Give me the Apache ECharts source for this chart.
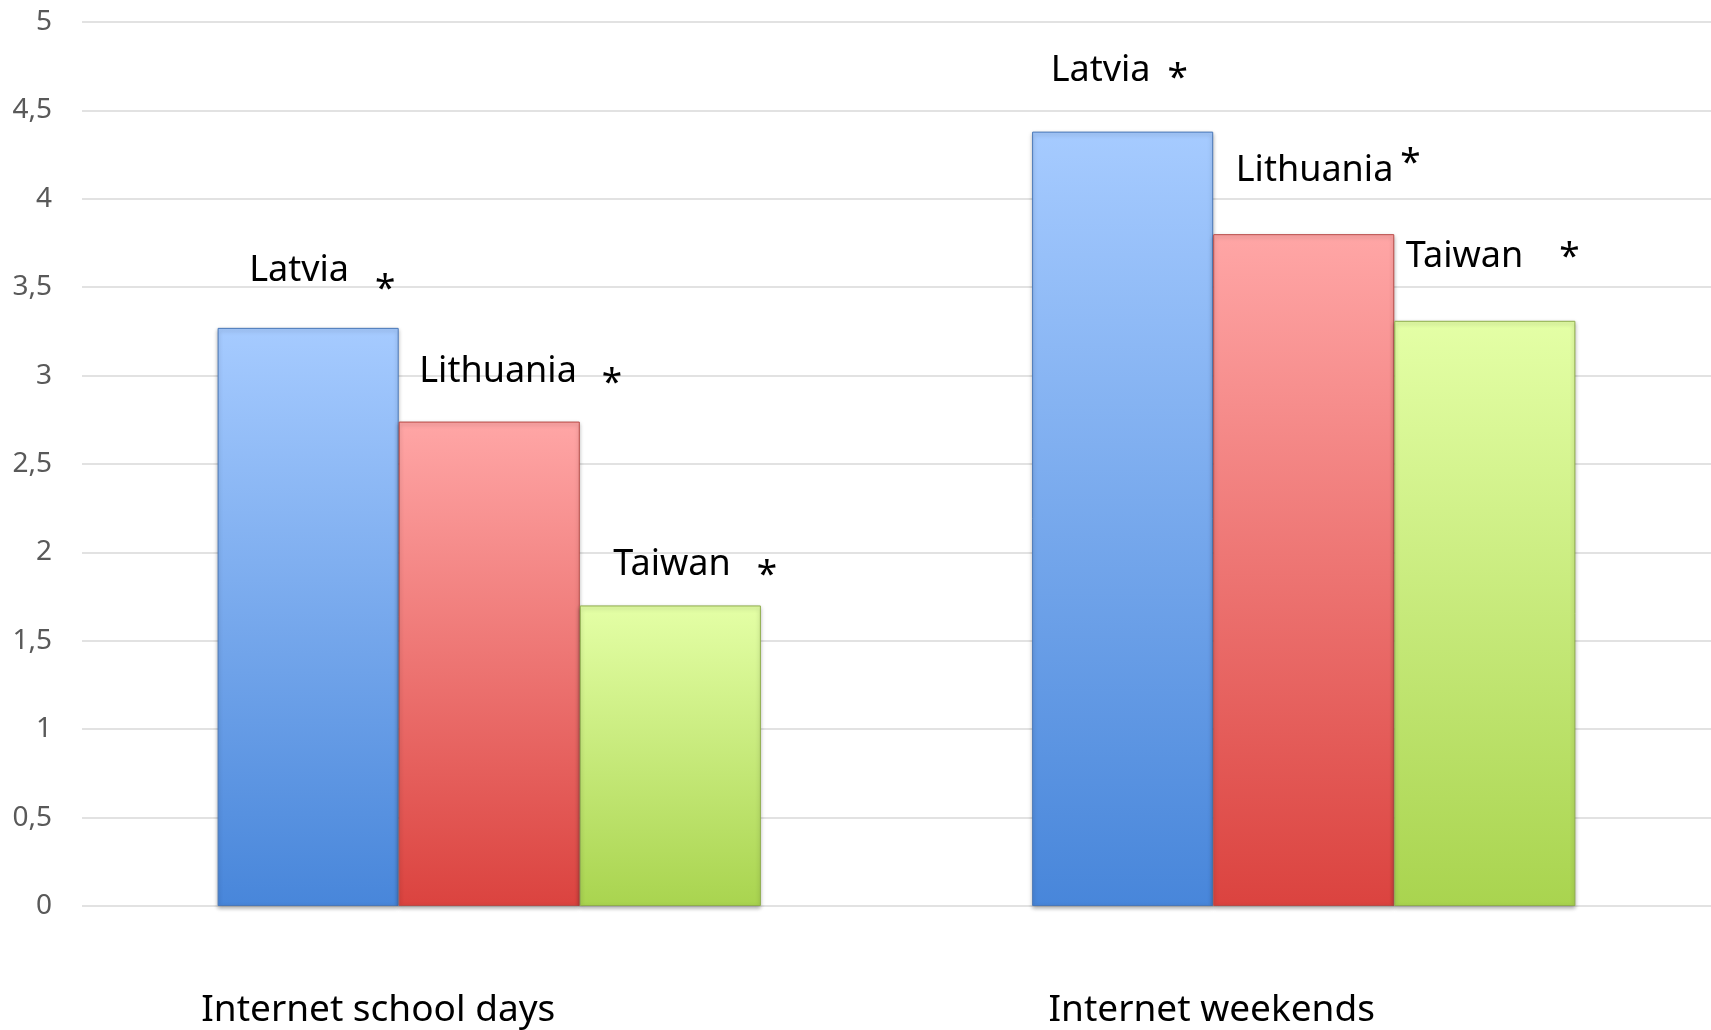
<!DOCTYPE html>
<html>
<head>
<meta charset="utf-8">
<title>Internet use</title>
<script src="https://cdn.jsdelivr.net/npm/echarts@6/dist/echarts.min.js"></script>
<style>
  html, body { margin: 0; padding: 0; background: #fff; }
  #chart { width: 1711px; height: 1030px; }
</style>
</head>
<body>
<div id="chart"></div>
<script>
const categories = ["Internet school days", "Internet weekends"];
const countries = ["Latvia", "Lithuania", "Taiwan"];
const latvia = [3.27, 4.38];
const lithuania = [2.74, 3.80];
const taiwan = [1.70, 3.31];
const marks = ["*", "*"]; // significance mark, same for all countries here

const font = "Noto Sans";

// where each country label sits, per category: [dx, dy, gap before star, star drop]
const labelPlace = [
  [[-59, -57, 26, 19], [-72, -61, 17, 8]],
  [[-70, -50, 25, 12], [-68, -63, 7, -8]],
  [[-57, -41, 26, 11], [-79, -64, 36, 1]]
];
const gradients = [
  ["#a6cbff", "#4886da"],
  ["#ffa6a6", "#db433f"],
  ["#e4ffa6", "#a9d44f"]
];
const borders = ["#4a78b8", "#b84a46", "#8fae4c"];
// shift of the category labels to the left (they sit off-centre in the original)
const catShift = [111, 92];

const values = [latvia, lithuania, taiwan];

function itemLabel(name, place, mark) {
  const drop = place[3];
  const pad = drop >= 0 ? [2 * drop, 0, 0, place[2]] : [0, 0, -2 * drop, place[2]];
  return {
    offset: [place[0], place[1]],
    formatter: "{n|" + name + "}{s|" + mark + "}",
    rich: {
      n: { fontFamily: font, fontSize: 36, color: "#000" },
      s: { fontFamily: font, fontSize: 37, color: "#000", padding: pad }
    }
  };
}

const chart = echarts.init(document.getElementById("chart"));
chart.setOption({
  animation: false,
  grid: { left: 82, right: 0, top: 22, bottom: 124 },
  xAxis: {
    type: "category",
    data: categories,
    axisLine: { show: false },
    axisTick: { show: false },
    axisLabel: {
      interval: 0,
      margin: 86,
      formatter: (v, i) => "{c" + i + "|" + v + "}",
      rich: {
        c0: { fontFamily: font, fontSize: 37, color: "#000", padding: [0, 2 * catShift[0], 0, 0] },
        c1: { fontFamily: font, fontSize: 37, color: "#000", padding: [0, 2 * catShift[1], 0, 0] }
      }
    }
  },
  yAxis: {
    type: "value",
    min: 0,
    max: 5,
    interval: 0.5,
    axisLine: { show: false },
    axisTick: { show: false },
    splitLine: { lineStyle: { color: "#d9d9d9", width: 1.5 } },
    axisLabel: {
      margin: 30,
      fontFamily: font,
      fontSize: 28,
      color: "#595959",
      formatter: v => String(v).replace(".", ",")
    }
  },
  series: countries.map((name, i) => ({
    name: name,
    type: "bar",
    barGap: 0,
    barCategoryGap: "33.3%",
    data: values[i].map((v, j) => ({
      value: v,
      label: itemLabel(name, labelPlace[i][j], marks[j])
    })),
    itemStyle: {
      color: new echarts.graphic.LinearGradient(0, 0, 0, 1, [
        { offset: 0, color: gradients[i][0] },
        { offset: 1, color: gradients[i][1] }
      ]),
      borderColor: borders[i],
      borderWidth: 1,
      shadowBlur: 4,
      shadowOffsetY: 2,
      shadowColor: "rgba(0,0,0,0.3)"
    },
    label: {
      show: true,
      position: "top",
      distance: 0,
      align: "left",
      verticalAlign: "middle"
    },
    emphasis: { disabled: true }
  }))
});
</script>
</body>
</html>
